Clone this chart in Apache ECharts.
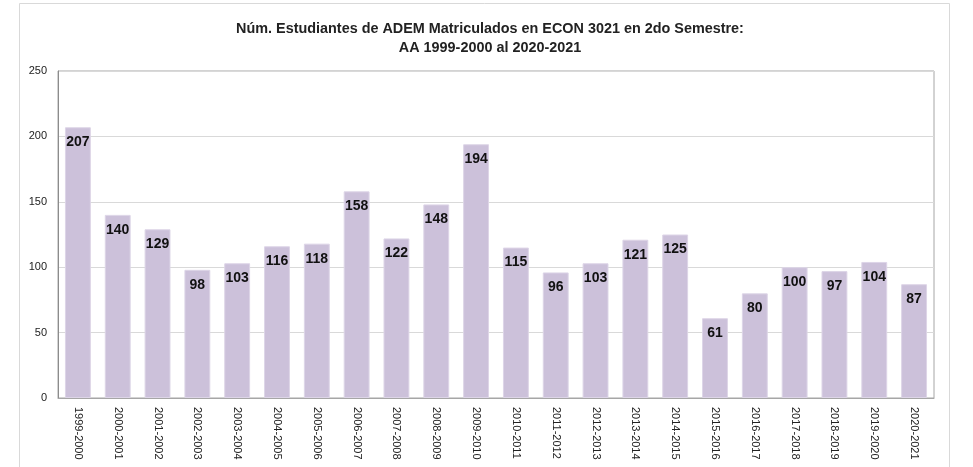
<!DOCTYPE html>
<html>
<head>
<meta charset="utf-8">
<script src="https://cdn.jsdelivr.net/npm/echarts@6/dist/echarts.min.js"></script>
<style>
  html, body { margin: 0; padding: 0; background: #fff; }
  #main { width: 973px; height: 467px; }
</style>
</head>
<body>
<div id="main"></div>
<script>
// años académicos
var years = ['1999-2000', '2000-2001', '2001-2002', '2002-2003', '2003-2004', '2004-2005',
  '2005-2006', '2006-2007', '2007-2008', '2008-2009', '2009-2010', '2010-2011', '2011-2012',
  '2012-2013', '2013-2014', '2014-2015', '2015-2016', '2016-2017', '2017-2018', '2018-2019',
  '2019-2020', '2020-2021'];
// estudiantes matriculados
var students = [207, 140, 129, 98, 103, 116, 118, 158, 122, 148, 194, 115, 96, 103, 121, 125,
  61, 80, 100, 97, 104, 87];

var chart = echarts.init(document.getElementById('main'));
chart.setOption({
  animation: false,
  backgroundColor: '#fff',
  textStyle: { fontFamily: 'Liberation Sans, Arial, sans-serif' },
  title: {
    text: 'Núm. Estudiantes de ADEM Matriculados en ECON 3021 en 2do Semestre:\nAA 1999-2000 al 2020-2021',
    left: 485,
    textAlign: 'center',
    top: 15,
    textStyle: { fontSize: 14.4, fontWeight: 'bold', color: '#222', lineHeight: 19 }
  },
  graphic: [{
    type: 'rect',
    shape: { x: 19.5, y: 3.5, width: 930, height: 470 },
    style: { fill: 'none', stroke: '#d9d9d9', lineWidth: 1 },
    silent: true
  }],
  grid: {
    left: 58, right: 39, top: 71, bottom: 69,
    show: true, borderColor: '#a6a6a6', borderWidth: 1
  },
  xAxis: {
    type: 'category',
    data: years,
    axisLine: { lineStyle: { color: '#a6a6a6' } },
    axisTick: { show: false },
    axisLabel: { rotate: -90, fontSize: 11, color: '#222', margin: 9, interval: 0 }
  },
  yAxis: {
    type: 'value',
    min: 0, max: 250, interval: 50,
    axisLine: { show: true, lineStyle: { color: '#8c8c8c' } },
    axisTick: { show: false },
    axisLabel: { fontSize: 11, color: '#222', margin: 11 },
    splitLine: { lineStyle: { color: '#d9d9d9' } }
  },
  series: [{
    type: 'bar',
    data: students,
    barWidth: '65%',
    itemStyle: { color: '#ccc1da', borderColor: '#ddd5e7', borderWidth: 1 },
    label: {
      show: true,
      position: 'insideTop',
      distance: 8,
      fontSize: 14,
      fontWeight: 'bold',
      color: '#111'
    }
  }]
});
</script>
</body>
</html>
